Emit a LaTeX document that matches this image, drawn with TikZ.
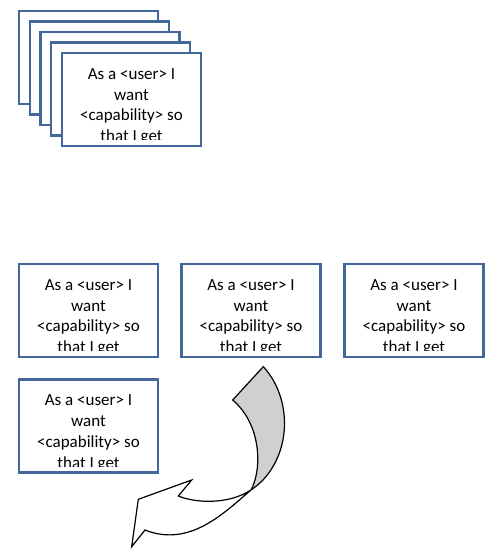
\documentclass[tikz,border=0pt]{standalone}
\usepackage{fontspec}
\setmainfont{Carlito}
\definecolor{cardblue}{HTML}{41679B}
\definecolor{ribbongray}{HTML}{D0D0D0}
\tikzset{
  blankcard/.style={draw=cardblue, line width=2.2pt, fill=white, minimum width=139pt, minimum height=93pt, inner sep=0pt},
  card/.style={blankcard,
    path picture={
      \clip ([yshift=6.5pt]path picture bounding box.south west) rectangle (path picture bounding box.north east);
      \node[anchor=north, inner sep=0pt, align=center, font=\fontsize{17}{20.8}\selectfont]
      at ([yshift=-6pt]path picture bounding box.north) {As a <user> I\\want\\<capability> so\\that I get};}},
  ribbon/.style={draw=black, line width=1.2pt, line join=miter}
}
\begin{document}
\begin{tikzpicture}[x=1pt,y=-1pt]
\path[use as bounding box] (0,0) rectangle (500,552);
% stack
\node[blankcard] (s1) at (88.5,57.5) {};
\node[blankcard] (s2) at (99.25,68) {};
\node[blankcard] (s3) at (110,78.5) {};
\node[blankcard] (s4) at (120.75,89) {};
\node[card] (s5) at (131.5,99.5) {};
% row
\node[card] (a) at (88.5,310.5) {};
\node[card] (b) at (251,310.5) {};
\node[card] (c) at (414,310.5) {};
\node[card] (d) at (88.5,426) {};
% ribbon arrow
\coordinate (P1) at (263.3,366.7);
\coordinate (G) at (232.7,400);
\coordinate (C) at (251,490);
\coordinate (L) at (145,530);
\coordinate (T) at (131.7,546.7);
\coordinate (B2) at (138.3,499.3);
\coordinate (B1) at (191.7,480);
\coordinate (N) at (178.3,496);
\fill[white] (P1) .. controls (285,390) and (292,430) .. (275,463)
  .. controls (268,476) and (261,483) .. (C)
  .. controls (225,512) and (190,548) .. (L) -- (T) -- (B2) -- (B1) -- (N)
  .. controls (195,503) and (228,505) .. (C)
  .. controls (262,470) and (262,425) .. (G) -- cycle;
\fill[ribbongray] (P1) .. controls (285,390) and (292,430) .. (275,463)
  .. controls (268,476) and (261,483) .. (C)
  .. controls (262,470) and (262,425) .. (G) -- cycle;
\draw[ribbon] (P1) .. controls (285,390) and (292,430) .. (275,463)
  .. controls (268,476) and (261,483) .. (C)
  .. controls (225,512) and (190,548) .. (L) -- (T) -- (B2) -- (B1) -- (N)
  .. controls (195,503) and (228,505) .. (C)
  .. controls (262,470) and (262,425) .. (G) -- cycle;
\end{tikzpicture}
\end{document}
